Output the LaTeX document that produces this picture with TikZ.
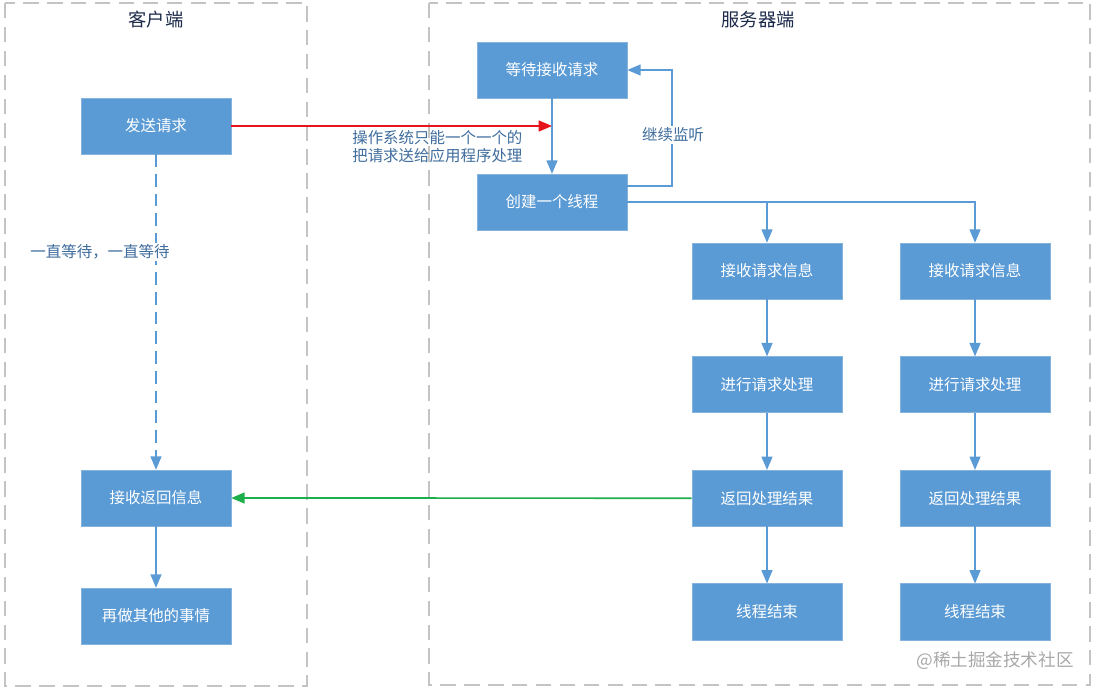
\documentclass[tikz,border=0pt]{standalone}
\usepackage{fontspec}
\setmainfont{Noto Sans CJK SC}
\usetikzlibrary{arrows, positioning}

\definecolor{boxblue}{HTML}{5B9BD5}
\definecolor{boxline}{HTML}{86B2DE}
\definecolor{noteblue}{HTML}{3E6C9C}
\definecolor{titlenavy}{HTML}{1C2A4A}
\definecolor{framegray}{HTML}{C4C4C4}
\definecolor{sendred}{HTML}{E8141B}
\definecolor{backgreen}{HTML}{1DAF4B}
\definecolor{markgray}{HTML}{A8A8A8}

\begin{document}
\begin{tikzpicture}[x=0.025cm, y=-0.025cm, >=triangle 45, node distance=1.425cm,
    font=\fontsize{11}{13}\selectfont]
  \tikzstyle{block}=[draw=boxline, fill=boxblue, text=white, minimum width=3.75cm, minimum height=1.4cm]
  \tikzstyle{flow}=[draw=boxblue, line width=1.2pt, ->]
  \tikzstyle{frame}=[draw=framegray, line width=1.6pt, dash pattern=on 11pt off 6pt]
  \tikzstyle{note}=[text=noteblue, fill=white, inner sep=1pt]
  \tikzstyle{title}=[text=titlenavy, font=\fontsize{13}{15}\selectfont]

  \useasboundingbox (0,0) rectangle (1095,692);
  \draw[frame] (5,3) rectangle (307,686);
  \draw[frame] (429,3) rectangle (1090,685);
  \node[title] (client) at (156,20) {客户端};
  \node[title] (server) at (758,20) {服务器端};

  % client side
  \node[block] (send)  at (156,126) {发送请求};
  \node[block] (recv)  at (156,498) {接收返回信息};
  \node[block] (other) at (156,616) {再做其他的事情};

  % server side
  \node[block] (wait)   at (552,70)  {等待接收请求};
  \node[block] (create) at (552,202) {创建一个线程};
  \node[block] (a1) at (767,271) {接收请求信息};
  \node[block] (a2) [below=of a1] {进行请求处理};
  \node[block] (a3) [below=of a2] {返回处理结果};
  \node[block] (a4) [below=of a3] {线程结束};
  \node[block] (b1) at (975,271) {接收请求信息};
  \node[block] (b2) [below=of b1] {进行请求处理};
  \node[block] (b3) [below=of b2] {返回处理结果};
  \node[block] (b4) [below=of b3] {线程结束};

  \draw[flow, dash pattern=on 9pt off 5pt] (send) -- (recv);
  \node[note] (waiting) at (100,252) {一直等待，一直等待};
  \draw[flow] (recv) -- (other);

  \coordinate (handoff) at (send.east -| wait.south);
  \draw[->, sendred, line width=1.2pt] (send.east) -- (handoff);
  \node[text=noteblue, anchor=north west, align=left, inner sep=0pt] (osnote) at (352,130)
    {操作系统只能一个一个的\\把请求送给应用程序处理};

  \draw[flow] (wait) -- (create);
  \draw[flow] ([yshift=0.4cm]create.east) -- ++(45,0) |- (wait.east);
  \node[note] (listen) at (673,135) {继续监听};
  \draw[flow] (create.east) -| (a1.north);
  \draw[flow] (create.east) -| (b1.north);
  \foreach \c in {a,b}
    \foreach \i/\j in {1/2, 2/3, 3/4}
      \draw[flow] (\c\i) -- (\c\j);

  \draw[->, backgreen, line width=1.2pt] (a3.west) -- (recv.east);

  \node[text=markgray, font=\fontsize{12.5}{14}\selectfont] (mark) at (995,661) {@稀土掘金技术社区};
\end{tikzpicture}
\end{document}
